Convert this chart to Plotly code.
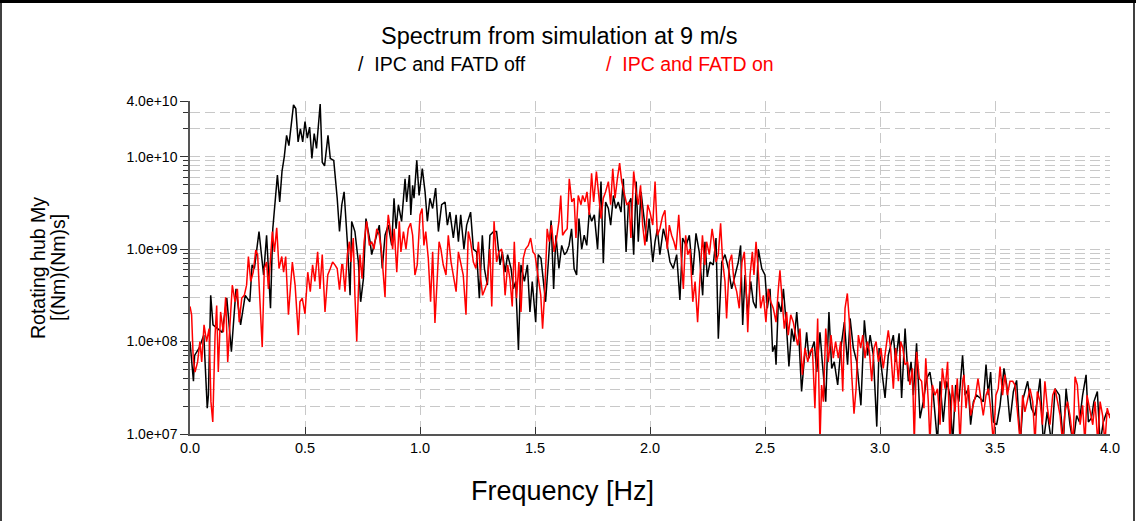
import plotly.graph_objects as go

# ---------------- data ----------------
# Frequency [Hz] and log10 of the spectrum value [(Nm)(Nm)s]
freq_off = [0.0, 0.015, 0.02, 0.04, 0.06, 0.075, 0.08, 0.09, 0.1, 0.12, 0.14, 0.16, 0.18, 0.2, 0.22, 0.24, 0.26, 0.27, 0.28, 0.3,
            0.32, 0.333, 0.34, 0.35, 0.36, 0.38, 0.39, 0.40, 0.41, 0.42, 0.43, 0.44, 0.45, 0.46, 0.47, 0.48, 0.49, 0.50, 0.51, 0.52,
            0.53, 0.54, 0.55, 0.566, 0.575, 0.585, 0.6, 0.61, 0.625, 0.64, 0.65, 0.66,
            0.67, 0.684, 0.696, 0.703, 0.717, 0.732, 0.742, 0.754, 0.765, 0.783, 0.79, 0.804, 0.823, 0.836, 0.848, 0.862, 0.877, 0.887,
            0.896, 0.906, 0.92, 0.935, 0.942, 0.954, 0.96, 0.968, 0.974, 0.986, 0.996, 1.01, 1.022, 1.032, 1.043, 1.055, 1.068, 1.08,
            1.094, 1.109, 1.119, 1.13, 1.145, 1.157, 1.167, 1.177, 1.191, 1.203, 1.22, 1.232, 1.246, 1.258, 1.271, 1.28, 1.293, 1.304, 1.32,
            1.333, 1.348, 1.358, 1.37, 1.381, 1.396, 1.406, 1.416, 1.428, 1.439, 1.454, 1.467, 1.478, 1.488, 1.503, 1.514, 1.526, 1.536,
            1.546, 1.558, 1.570, 1.581, 1.591, 1.604, 1.616, 1.628, 1.638, 1.648, 1.659, 1.67, 1.681, 1.691, 1.703, 1.714, 1.725, 1.736,
            1.746, 1.758, 1.772, 1.787, 1.797, 1.807, 1.819, 1.829, 1.841, 1.851, 1.862, 1.874, 1.884, 1.896, 1.906, 1.917, 1.929, 1.94,
            1.949, 1.961, 1.972, 1.986, 1.996,
            2.012, 2.022, 2.032, 2.043, 2.058, 2.072, 2.087, 2.101, 2.116, 2.13, 2.142, 2.157, 2.171, 2.186, 2.2, 2.214, 2.229, 2.239,
            2.249, 2.261, 2.275, 2.287, 2.297, 2.312, 2.326, 2.341, 2.355, 2.37, 2.384, 2.394, 2.403, 2.413, 2.425, 2.438, 2.449, 2.461,
            2.471, 2.486, 2.5, 2.51, 2.522, 2.533, 2.543, 2.548, 2.558, 2.57, 2.58, 2.594, 2.604, 2.616, 2.626, 2.638, 2.649, 2.659, 2.67,
            2.681, 2.691, 2.703, 2.714, 2.725, 2.739, 2.749, 2.764, 2.778, 2.79, 2.801, 2.816, 2.83, 2.845, 2.859, 2.87, 2.884, 2.899,
            2.917, 2.932, 2.946, 2.957, 2.971, 2.986, 2.996, 3.01, 3.022, 3.036, 3.048, 3.058, 3.068, 3.083, 3.094, 3.109, 3.123, 3.135,
            3.145, 3.159, 3.174, 3.188, 3.203, 3.217, 3.232, 3.25, 3.261, 3.275, 3.29, 3.304, 3.316, 3.329, 3.343,
            3.359, 3.37, 3.384, 3.394, 3.406, 3.42, 3.435, 3.449, 3.461, 3.471, 3.481, 3.493, 3.507, 3.522, 3.539, 3.551, 3.565, 3.58,
            3.594, 3.61, 3.623, 3.642, 3.658, 3.673, 3.683, 3.696, 3.71, 3.727, 3.746, 3.761, 3.78, 3.797, 3.809, 3.826, 3.84, 3.855,
            3.867, 3.881, 3.896, 3.906, 3.919, 3.93, 3.945, 3.957, 3.971, 3.986, 4.0]
log_psd_off = [8.0, 7.57, 7.85, 7.93, 8.07, 7.28, 7.42, 8.5, 8.18, 8.14, 8.1, 8.47, 7.89, 8.57, 8.18, 8.5, 8.43, 8.83, 8.79, 9.19,
               8.72, 9.15, 8.79, 8.36, 9.22, 9.8, 9.51, 9.84, 10.0, 10.23, 10.12, 10.34, 10.56, 10.52, 10.16, 10.3, 10.16, 10.38, 10.2, 10.32,
               9.98, 10.25, 10.09, 10.57, 9.94, 9.9, 10.23, 9.98, 9.96, 9.55, 9.19, 9.48,
               9.62, 9.08, 8.5, 9.3, 9.19, 8.86, 8.43, 8.68, 9.33, 9.08, 8.94, 9.08, 9.26, 8.79, 9.15, 9.26, 9.04, 9.55,
               9.22, 9.48, 9.3, 9.76, 9.51, 9.8, 9.37, 9.69, 9.55, 9.96, 9.58, 9.87, 9.62, 9.3, 9.55, 9.44, 9.66, 9.19,
               9.48, 9.51, 9.26, 9.4, 9.12, 9.37, 9.08, 9.37, 9.0, 9.26, 9.4, 9.0, 8.97, 8.47, 9.15, 8.79, 8.61, 9.15, 9.19,
               9.19, 8.83, 8.97, 8.75, 8.94, 8.79, 8.57, 8.65, 7.91, 8.83, 8.65, 8.83, 8.32, 8.65, 8.21, 8.94, 8.9, 8.65,
               8.43, 8.86, 9.31, 8.57, 9.15, 8.79, 9.04, 8.94, 8.97, 9.04, 9.22, 8.79, 8.72, 9.33, 9.0, 9.15, 9.04, 9.4,
               9.3, 9.37, 9.0, 9.73, 8.85, 9.51, 9.44, 9.26, 9.58, 9.44, 9.51, 9.4, 9.76, 8.97, 9.48, 9.55, 8.94, 9.73,
               9.08, 9.62, 9.4, 9.08, 9.33,
               8.86, 9.08, 9.22, 8.94, 9.22, 9.08, 8.86, 8.79, 8.94, 8.45, 9.12, 9.04, 9.15, 8.72, 9.17, 8.97, 8.5, 9.08,
               8.7, 8.86, 8.83, 9.12, 8.03, 8.86, 8.94, 8.79, 8.57, 8.72, 8.86, 9.04, 8.18, 8.72, 8.29, 8.65, 8.43, 8.36,
               9.0, 8.79, 8.72, 8.36, 8.57, 7.89, 7.96, 7.75, 8.43, 8.32, 8.57, 8.14, 7.73, 8.14, 8.0, 8.32, 7.96, 7.46, 7.78,
               8.1, 7.82, 7.93, 8.0, 7.67, 8.1, 7.78, 7.35, 8.32, 7.71, 7.78, 7.53, 7.93, 8.21, 7.75, 8.25, 7.93, 7.78,
               7.31, 8.23, 7.85, 8.07, 7.85, 7.08, 7.93, 7.64, 7.39, 7.85, 7.96, 8.07, 7.78, 8.09, 7.39, 8.14, 7.57, 7.78,
               7.42, 7.98, 7.17, 7.35, 7.6, 7.67, 7.42, 6.9, 7.57, 7.13, 7.57, 7.42, 6.9, 7.53, 7.35,
               7.85, 7.42, 7.49, 7.1, 7.35, 7.42, 7.39, 7.35, 7.75, 7.42, 7.67, 7.13, 7.1, 7.31, 7.71, 7.53, 7.13, 7.46,
               7.58, 6.9, 7.39, 7.57, 7.28, 7.2, 7.35, 7.6, 6.9, 7.24, 6.9, 7.49, 7.42, 6.9, 7.49, 7.1, 6.9, 7.2,
               7.13, 7.42, 7.64, 7.13, 7.17, 7.35, 7.46, 6.9, 7.13, 7.24, 7.2]

freq_on = [0.0, 0.007, 0.014, 0.022, 0.033, 0.043, 0.051, 0.061, 0.072, 0.083, 0.091, 0.099, 0.109, 0.116, 0.123, 0.133, 0.145, 0.155,
           0.164, 0.174, 0.184, 0.196, 0.206, 0.214, 0.225, 0.236, 0.246, 0.254, 0.264, 0.275, 0.286, 0.294, 0.304, 0.314, 0.323, 0.333,
           0.341, 0.349, 0.358, 0.367, 0.377, 0.387, 0.399, 0.407, 0.416, 0.428, 0.435, 0.445, 0.457, 0.471, 0.478, 0.488, 0.5, 0.512,
           0.523, 0.533, 0.543, 0.555, 0.565, 0.575, 0.587, 0.599, 0.61, 0.62, 0.63, 0.64, 0.65, 0.66,
           0.664, 0.674, 0.684, 0.693, 0.7, 0.71, 0.717, 0.725, 0.732, 0.739, 0.748, 0.757, 0.768, 0.78, 0.79, 0.8, 0.812, 0.823, 0.833,
           0.848, 0.855, 0.862, 0.872, 0.881, 0.888, 0.899, 0.91, 0.917, 0.928, 0.939, 0.949, 0.959, 0.968, 0.978, 0.988, 1.0, 1.009,
           1.017, 1.025, 1.036, 1.046, 1.055, 1.065, 1.072, 1.083, 1.091, 1.101, 1.113, 1.123, 1.135, 1.145, 1.157, 1.167, 1.177, 1.188,
           1.2, 1.21, 1.22, 1.232, 1.243, 1.254, 1.264, 1.272, 1.283, 1.293, 1.304, 1.312, 1.322,
           1.333, 1.343, 1.355, 1.362, 1.37, 1.381, 1.391, 1.401, 1.41, 1.42, 1.43, 1.439, 1.449, 1.459, 1.471, 1.481, 1.491, 1.5, 1.514,
           1.525, 1.533, 1.543, 1.553, 1.562, 1.572, 1.583, 1.594, 1.604, 1.612, 1.62, 1.63, 1.64, 1.649, 1.66, 1.67, 1.678, 1.688, 1.7,
           1.707, 1.717, 1.726, 1.736, 1.746, 1.755, 1.767, 1.775, 1.787, 1.797, 1.807, 1.819, 1.829, 1.838, 1.848, 1.858, 1.868, 1.877,
           1.888, 1.899, 1.909, 1.917, 1.929, 1.939, 1.949, 1.959, 1.968, 1.978, 1.99,
           2.0, 2.012, 2.022, 2.032, 2.043, 2.054, 2.065, 2.075, 2.084, 2.094, 2.104, 2.113, 2.125, 2.135, 2.145, 2.155, 2.164, 2.174,
           2.186, 2.196, 2.207, 2.217, 2.228, 2.238, 2.246, 2.258, 2.27, 2.278, 2.287, 2.297, 2.307, 2.316, 2.326, 2.333, 2.345, 2.355,
           2.365, 2.377, 2.388, 2.4, 2.41, 2.42, 2.425, 2.435, 2.445, 2.452, 2.461, 2.471, 2.481, 2.493, 2.504, 2.514, 2.525, 2.536,
           2.548, 2.558, 2.565, 2.575, 2.584, 2.594, 2.601, 2.612, 2.623, 2.633, 2.642, 2.652, 2.662,
           2.674, 2.686, 2.696, 2.706, 2.717, 2.729, 2.739, 2.746, 2.754, 2.764, 2.775, 2.787, 2.797, 2.807, 2.819, 2.829, 2.838, 2.848,
           2.858, 2.867, 2.877, 2.887, 2.896, 2.906, 2.916, 2.925, 2.935, 2.945, 2.954, 2.964, 2.974, 2.983, 2.993, 3.004, 3.014, 3.025,
           3.036, 3.046, 3.058, 3.068, 3.08, 3.09, 3.099, 3.109, 3.12, 3.13, 3.141, 3.149, 3.159, 3.171, 3.181, 3.191, 3.199, 3.21,
           3.217, 3.228, 3.239, 3.25, 3.261, 3.271, 3.283, 3.294, 3.304, 3.314, 3.326, 3.336, 3.348,
           3.359, 3.365, 3.374, 3.384, 3.394, 3.406, 3.416, 3.426, 3.436, 3.449, 3.461, 3.471, 3.481, 3.493, 3.504, 3.514, 3.522, 3.533,
           3.543, 3.554, 3.565, 3.577, 3.587, 3.597, 3.61, 3.62, 3.63, 3.64, 3.652, 3.664, 3.674, 3.684, 3.696, 3.706, 3.717, 3.728,
           3.739, 3.751, 3.761, 3.772, 3.783, 3.794, 3.804, 3.815, 3.826, 3.84, 3.848, 3.858, 3.87, 3.881, 3.891, 3.9, 3.913, 3.925,
           3.935, 3.947, 3.957, 3.968, 3.978, 3.988, 4.0]
log_psd_on = [8.38, 8.29, 7.82, 7.67, 7.78, 8.0, 7.78, 8.18, 8.0, 8.14, 7.35, 7.13, 8.07, 8.39, 7.67, 8.32, 8.1, 8.48,
              7.78, 8.14, 8.61, 8.43, 8.57, 8.21, 8.47, 8.5, 8.61, 8.92, 8.65, 8.75, 8.99, 8.94, 8.5, 7.94, 8.79, 8.86,
              8.57, 8.86, 9.19, 8.97, 9.23, 8.79, 8.92, 8.75, 8.92, 8.29, 8.54, 8.86, 8.61, 8.07, 8.43, 8.47, 8.3, 8.75,
              8.54, 8.83, 8.65, 8.97, 8.57, 8.94, 8.32, 8.72, 8.79, 8.86, 8.83, 8.79, 8.56, 8.83,
              8.83, 8.54, 8.94, 9.08, 8.86, 9.12, 8.5, 8.0, 8.54, 8.94, 8.68, 9.08, 9.3, 9.04, 9.08, 9.0, 9.22, 9.15, 8.97,
              8.48, 9.12, 9.37, 9.19, 9.0, 9.22, 8.75, 9.3, 8.97, 9.19, 9.0, 9.22, 9.28, 9.15, 8.72, 8.83, 9.37, 9.44,
              9.04, 9.19, 8.9, 8.43, 8.97, 8.2, 8.57, 9.08, 9.0, 8.83, 8.72, 9.15, 8.86, 8.72, 8.54, 8.97, 8.83, 8.72,
              8.29, 9.19, 9.08, 8.86, 8.79, 9.08, 8.68, 8.5, 8.57, 8.65, 9.0, 8.38, 9.3,
              8.86, 8.97, 9.0, 8.86, 8.5, 8.83, 8.68, 8.38, 9.08, 8.47, 8.86, 8.32, 8.9, 9.0, 9.04, 9.12, 8.97, 8.94, 8.72,
              8.5, 8.14, 8.57, 9.22, 9.08, 9.26, 8.97, 9.12, 9.3, 9.58, 9.15, 9.19, 9.22, 9.76, 9.51, 9.55, 9.12, 9.58, 9.48,
              9.58, 9.51, 9.62, 9.37, 9.82, 9.51, 9.84, 9.66, 9.33, 9.55, 9.62, 9.73, 9.48, 9.87, 9.55, 9.76, 9.93, 9.73,
              9.62, 9.48, 9.51, 9.12, 9.84, 9.62, 9.48, 9.69, 9.26, 9.04, 9.48,
              9.4, 9.26, 9.73, 9.15, 9.22, 9.35, 9.42, 9.0, 9.26, 9.15, 9.08, 8.99, 9.37, 8.94, 8.57, 9.15, 8.94, 9.0,
              8.43, 8.65, 8.21, 8.68, 9.15, 8.83, 9.08, 8.94, 9.22, 9.08, 8.86, 8.94, 9.28, 8.86, 8.65, 8.25, 8.86, 8.94,
              8.65, 8.54, 8.36, 8.86, 8.97, 8.47, 8.1, 8.72, 8.97, 8.72, 9.08, 8.75, 8.36, 8.5, 8.21, 8.57, 8.43, 8.36,
              8.21, 8.57, 8.77, 8.43, 8.14, 8.32, 8.07, 8.29, 8.21, 8.07, 7.96, 8.14, 7.64,
              7.93, 7.78, 7.89, 7.93, 7.28, 8.25, 6.9, 7.53, 7.35, 8.14, 7.78, 8.07, 7.82, 8.0, 7.82, 8.0, 7.46, 8.36,
              8.52, 8.21, 7.64, 7.22, 7.49, 8.07, 7.93, 8.07, 7.82, 8.0, 7.89, 7.57, 7.93, 8.0, 7.78, 7.93, 7.71, 7.93,
              8.12, 7.93, 7.49, 7.93, 7.57, 8.0, 7.93, 7.75, 7.78, 7.53, 7.71, 6.9, 7.89, 7.6, 7.57, 7.28, 7.82, 7.35,
              6.9, 7.53, 7.42, 7.49, 7.1, 7.71, 7.49, 7.78, 6.9, 7.53, 7.24, 7.6, 6.9,
              7.57, 7.64, 7.28, 7.53, 7.2, 7.31, 7.42, 7.6, 7.42, 7.2, 7.42, 7.49, 7.28, 6.9, 7.42, 7.49, 7.73, 7.42,
              7.64, 7.42, 7.57, 7.57, 7.53, 7.28, 6.9, 7.42, 7.24, 7.35, 7.49, 7.35, 6.9, 7.46, 7.35, 7.1, 7.57, 7.28,
              7.1, 7.42, 7.49, 7.35, 7.2, 6.9, 7.24, 7.35, 7.2, 6.9, 7.62, 7.53, 7.1, 7.31, 6.9, 7.42, 7.24, 7.1,
              7.35, 6.9, 7.35, 7.2, 6.9, 7.28, 7.17]

y_major_vals = [1e7, 1e8, 1e9, 1e10, 4e10]
y_major_text = ["1.0e+07", "1.0e+08", "1.0e+09", "1.0e+10", "4.0e+10"]
x_tick_vals = [0.0, 0.5, 1.0, 1.5, 2.0, 2.5, 3.0, 3.5, 4.0]
series_names = ["IPC and FATD off", "IPC and FATD on"]

psd_off = [10 ** v for v in log_psd_off]
psd_on = [10 ** v for v in log_psd_on]

y_minor_vals = [m * 10 ** e for e in range(7, 11) for m in range(2, 10) if m * 10 ** e < 4e10]

# ---------------- figure ----------------
W, H = 1136, 521
L, R, T, B = 190, 26, 101, 87
pw, ph = W - L - R, H - T - B

def px(x):
    return (x - L) / pw

def py(y):
    return (H - B - y) / ph

FONT = "Arial, Liberation Sans, Helvetica, sans-serif"
grid_c = "#c8c8c8"

fig = go.Figure()
fig.add_trace(go.Scatter(x=freq_off, y=psd_off, mode="lines", name=series_names[0],
                         line=dict(color="#000000", width=1.5)))
fig.add_trace(go.Scatter(x=freq_on, y=psd_on, mode="lines", name=series_names[1],
                         line=dict(color="#ff0000", width=1.5)))

fig.update_layout(
    width=W, height=H,
    margin=dict(l=L, r=R, t=T, b=B),
    paper_bgcolor="white", plot_bgcolor="white",
    showlegend=False,
    font=dict(family=FONT, color="#000000"),
)

fig.update_xaxes(
    range=[0, 4], tickvals=x_tick_vals, tickformat=".1f",
    showline=True, linecolor="#555555", linewidth=1.5, mirror=False,
    ticks="inside", ticklen=7, tickcolor="#333333", tickwidth=1,
    showgrid=True, gridcolor=grid_c, gridwidth=1, griddash="10px,6px",
    tickfont=dict(size=14.5, family=FONT), zeroline=False,
)
fig.update_yaxes(
    type="log", range=[7, 10.60206],
    tickvals=y_major_vals, ticktext=y_major_text,
    showline=True, linecolor="#555555", linewidth=1.5,
    ticks="outside", ticklen=8, tickcolor="#333333", tickwidth=1,
    showgrid=True, gridcolor=grid_c, gridwidth=1, griddash="10px,5px",
    tickfont=dict(size=14, family=FONT), zeroline=False,
    minor=dict(tickvals=y_minor_vals, ticks="outside", ticklen=5, tickcolor="#333333",
               showgrid=True, gridcolor=grid_c, gridwidth=1, griddash="10px,5px"),
)

ann = [
    dict(text="Spectrum from simulation at 9 m/s", x=px(559), y=py(36), font=dict(size=23.5)),
    dict(text="/  " + series_names[0], x=px(356), y=py(64), xanchor="left", font=dict(size=19.5, color="#000000")),
    dict(text="/  " + series_names[1], x=px(604), y=py(64), xanchor="left", font=dict(size=19.5, color="#ff0000")),
    dict(text="Rotating hub My", x=px(38), y=py(268), textangle=-90, font=dict(size=19.5)),
    dict(text="[(Nm)(Nm)s]", x=px(58), y=py(268), textangle=-90, font=dict(size=19.5)),
    dict(text="Frequency [Hz]", x=px(562), y=py(491), font=dict(size=27)),
]
for a in ann:
    a.setdefault("xanchor", "center")
    fig.add_annotation(xref="paper", yref="paper", showarrow=False, yanchor="middle", **a)

# outer frame of the picture
fig.add_shape(type="line", xref="paper", yref="paper", x0=px(0), x1=px(W), y0=py(1.5), y1=py(1.5),
              line=dict(color="black", width=3))
fig.add_shape(type="line", xref="paper", yref="paper", x0=px(1), x1=px(1), y0=py(0), y1=py(H),
              line=dict(color="black", width=1.5))
fig.add_shape(type="line", xref="paper", yref="paper", x0=px(W - 2), x1=px(W - 2), y0=py(0), y1=py(H),
              line=dict(color="black", width=1.5))

fig.write_html("out.html", config={"displayModeBar": False},
               post_script="document.body.style.margin='0';")
